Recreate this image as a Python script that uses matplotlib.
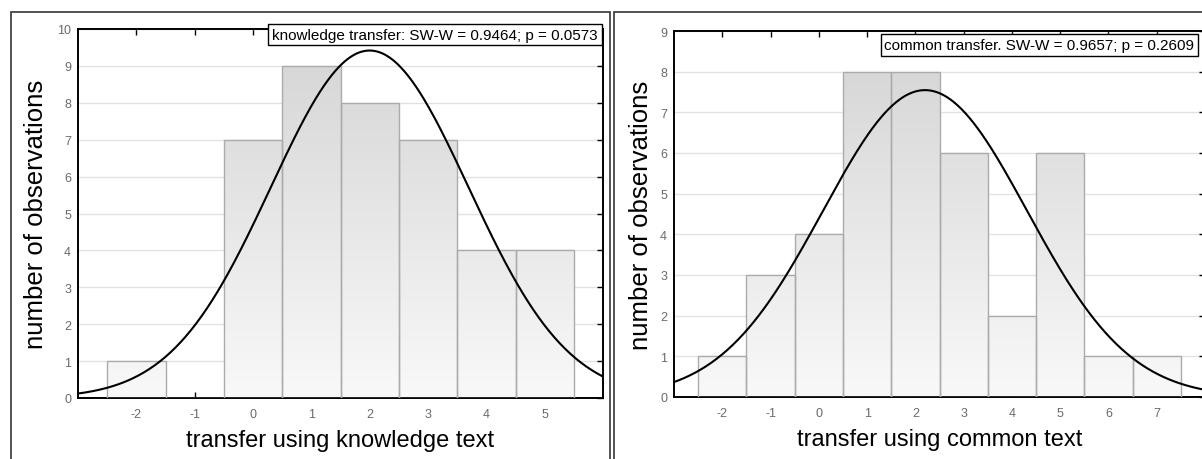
import numpy as np
import matplotlib
matplotlib.use("Agg")
import matplotlib.pyplot as plt
from matplotlib.patches import Rectangle

plt.rcParams['font.family'] = ['Liberation Sans', 'DejaVu Sans']
plt.rcParams['axes.unicode_minus'] = False

# histogram data (bin centres, counts)
know_x = [-2, -1, 0, 1, 2, 3, 4, 5]
know_n = [1, 0, 7, 9, 8, 7, 4, 4]
comm_x = [-2, -1, 0, 1, 2, 3, 4, 5, 6, 7]
comm_n = [1, 3, 4, 8, 8, 6, 2, 6, 1, 1]

know_note = "knowledge transfer: SW-W = 0.9464; p = 0.0573"
comm_note = "common transfer. SW-W = 0.9657; p = 0.2609"

W, H = 1202, 460
fig = plt.figure(figsize=(W / 100, H / 100), dpi=100)


def px_axes(l, t, r, b):
    return fig.add_axes([l / W, 1 - b / H, (r - l) / W, (b - t) / H])


def hist_panel(ax, xs, ns, xlim, ymax, note, note_xy, xlabel, ylab_x):
    ax.set_xlim(*xlim)
    ax.set_ylim(0, ymax)
    ax.set_yticks(range(0, ymax + 1))
    ax.set_xticks(range(int(xlim[0]) + 1, int(np.ceil(xlim[1]))))
    ax.yaxis.grid(True, color='#e2e2e2', lw=1)
    ax.set_axisbelow(True)

    bars = ax.bar(xs, ns, width=1.0, color='none', edgecolor='#ababab',
                  lw=1, zorder=3)
    # grey fill: darker near the top of the plot, almost white at the bottom
    g = np.linspace(0.83, 0.975, 256)
    grad = np.dstack([g, g, g]).reshape(-1, 1, 3)
    for b in bars:
        if b.get_height() == 0:
            continue
        im = ax.imshow(grad, extent=[xlim[0], xlim[1], 0, ymax], origin='upper',
                       aspect='auto', zorder=2, interpolation='bilinear')
        im.set_clip_path(b)

    # fitted normal curve from the binned data
    vals = np.repeat(xs, ns)
    mu, sd = vals.mean(), vals.std(ddof=1)
    xx = np.linspace(xlim[0], xlim[1], 400)
    yy = len(vals) / (sd * np.sqrt(2 * np.pi)) * np.exp(-0.5 * ((xx - mu) / sd) ** 2)
    ax.plot(xx, yy, color='black', lw=1.5, zorder=4)

    for s in ax.spines.values():
        s.set_color('black')
        s.set_linewidth(1.4)
    ax.tick_params(axis='x', direction='in', top=True, length=4, width=1,
                   pad=7, labelsize=9, labelcolor='#6a6a6a')
    ax.tick_params(axis='y', direction='in', left=False, right=True, length=4,
                   width=1, pad=5, labelsize=9, labelcolor='#6a6a6a')

    ax.set_xlabel(xlabel, fontsize=17, labelpad=7)
    ax.set_ylabel("number of observations", fontsize=18.5)
    ax.yaxis.set_label_coords(ylab_x, 0.5)

    ax.text(note_xy[0], note_xy[1], note, transform=ax.transAxes,
            ha='right', va='center', fontsize=11, zorder=6,
            bbox=dict(boxstyle='square,pad=0.25', fc='white', ec='black', lw=1))


ax1 = px_axes(78, 30, 603, 399)
hist_panel(ax1, know_x, know_n, (-3, 6), 10, know_note, (0.99, 0.985),
           "transfer using knowledge text", -30 / 525)

ax2 = px_axes(674, 32, 1205, 398)
hist_panel(ax2, comm_x, comm_n, (-3, 8), 9, comm_note, (0.98, 0.962),
           "transfer using common text", -21 / 531)

# outer panel frames
for l, r in [(11, 610), (613.5, 1230)]:
    fig.patches.append(Rectangle((l / W, -0.2), (r - l) / W, 1.2 - 13 / H,
                                 transform=fig.transFigure, fill=False,
                                 ec='#444444', lw=1.3, clip_on=False))

fig.savefig("out.png", dpi=100)
